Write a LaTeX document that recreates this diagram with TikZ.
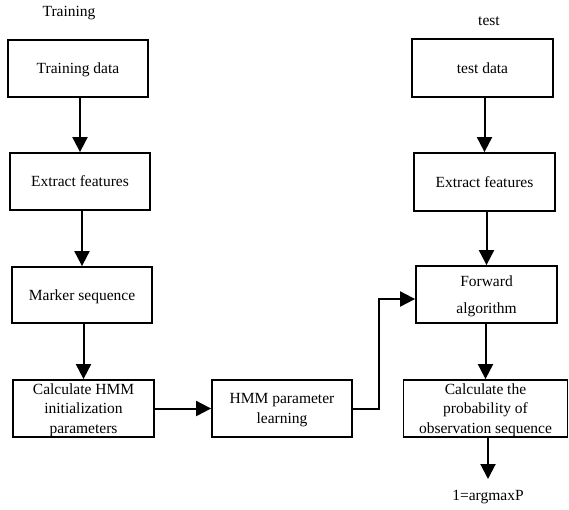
\documentclass[tikz,border=0pt]{standalone}
\usepackage{fontspec}
\setmainfont{Liberation Serif}
\usetikzlibrary{arrows.meta}
\tikzset{
  box/.style={draw, line width=1.8pt, inner sep=0pt, align=center,
    font=\fontsize{15.5}{19.5}\selectfont, text depth=0pt},
  lbl/.style={inner sep=0pt, font=\fontsize{15.5}{19.5}\selectfont},
  arr/.style={line width=2pt, -{Triangle[length=15pt,width=15pt]}},
}
\begin{document}
\begin{tikzpicture}[x=1pt,y=-1pt]
\useasboundingbox (0,0) rectangle (569,509);
\node[lbl] (trl) at (69,13) {Training};
\node[lbl] (tel) at (489,21) {test};
\node[box, minimum width=140pt, minimum height=57pt] (tdata) at (78,68.5) {Training data};
\node[box, minimum width=140pt, minimum height=57pt] (ext1) at (80,181.5) {Extract features};
\node[box, minimum width=140pt, minimum height=56pt] (mark) at (82,295) {Marker sequence};
\node[box, minimum width=141pt, minimum height=57pt] (calc) at (83.5,408.5) {Calculate HMM\\initialization\\parameters};
\node[box, minimum width=140pt, minimum height=57pt] (learn) at (282,408.5) {HMM parameter\\learning};
\node[box, minimum width=141pt, minimum height=58pt] (testd) at (482.5,68) {test data};
\node[box, minimum width=141pt, minimum height=58pt] (ext2) at (484.5,182) {Extract features};
\node[box, minimum width=141pt, minimum height=57pt, font=\fontsize{15.5}{27}\selectfont] (fwd) at (486.5,294.5) {Forward\\algorithm};
\node[box, minimum width=164pt, minimum height=57pt] (prob) at (485.5,408.5) {Calculate the\\probability of\\observation sequence};
\coordinate (resc) at (488,479);
\node[lbl] (res) at (488,497) {1=argmaxP};

\draw[arr] (ext1.north |- tdata.south) -- (ext1.north);
\draw[arr] (mark.north |- ext1.south) -- (mark.north);
\draw[arr] (calc.north |- mark.south) -- (calc.north);
\draw[arr] (calc) -- (learn);
\draw[arr] (learn.east) -- ++(26,0) |- ([yshift=-4.5pt]fwd.west);
\draw[arr] (ext2.north |- testd.south) -- (ext2.north);
\draw[arr] (fwd.north |- ext2.south) -- (fwd.north);
\draw[arr] (prob.north |- fwd.south) -- (prob.north);
\draw[arr] (resc |- prob.south) -- (resc);
\end{tikzpicture}
\end{document}
